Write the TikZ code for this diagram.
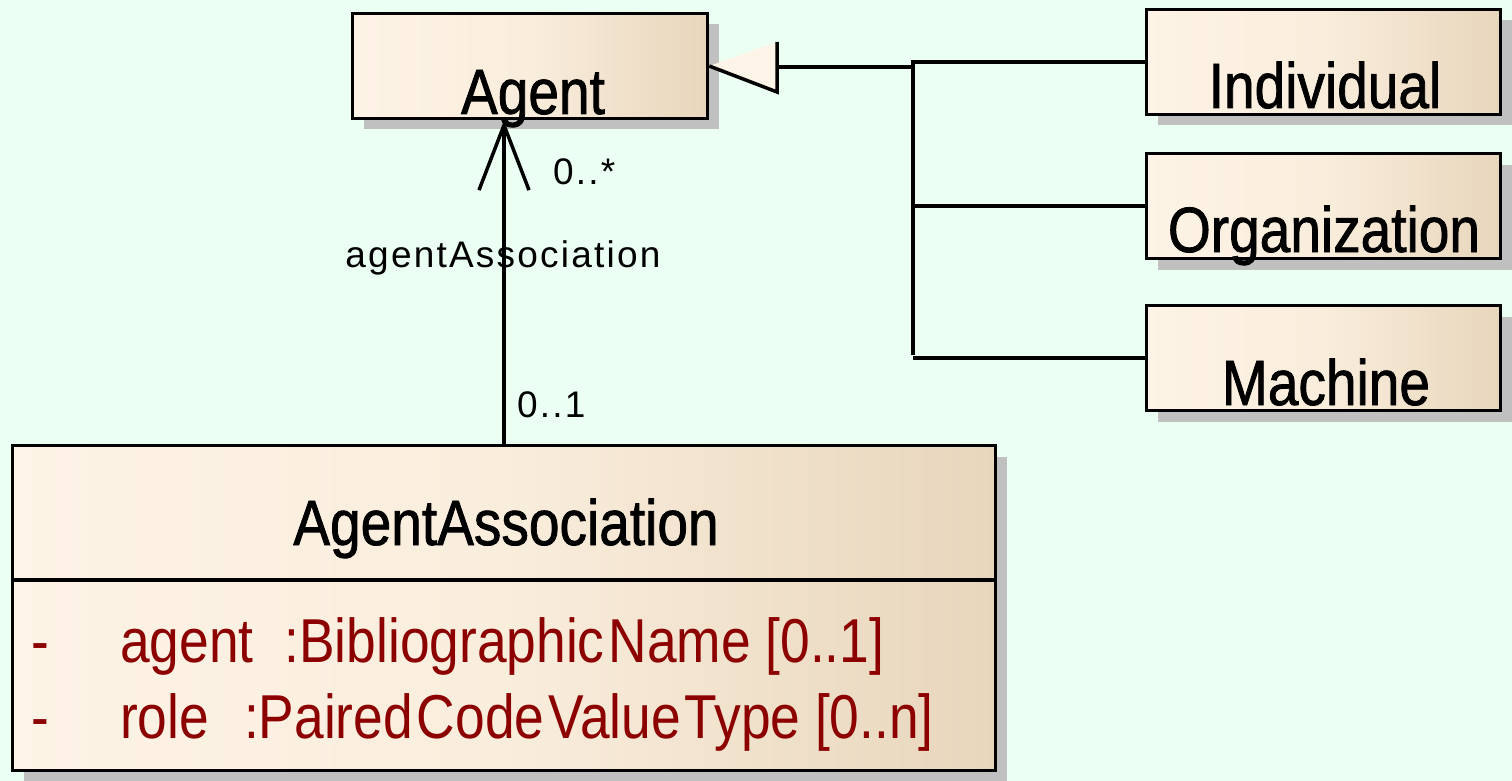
\documentclass[tikz,border=0pt]{standalone}
\usepackage{fontspec}
\usetikzlibrary{arrows.meta}
\usetikzlibrary{shadows}

\newfontfamily\umlnarrow[FakeStretch=0.86]{Liberation Sans}
\newfontfamily\umlnarrowbold[FakeStretch=0.86, FakeBold=1.2]{Liberation Sans}
\newfontfamily\umllabel[LetterSpace=6]{Liberation Sans}

\definecolor{bgmint}{RGB}{235,255,243}
\definecolor{clsL}{RGB}{253,243,230}
\definecolor{clsM}{RGB}{249,237,220}
\definecolor{clsR}{RGB}{232,214,188}
\definecolor{shadowgray}{RGB}{192,192,192}
\definecolor{attrred}{RGB}{140,0,0}

\begin{document}
\begin{tikzpicture}[x=1pt,y=-1pt]
	\tikzstyle{cls} = [rectangle, draw, line width=3.5pt, left color=clsL, right color=clsR, middle color=clsM, inner sep=0pt, drop shadow={shadow xshift=11pt, shadow yshift=-11pt, fill=shadowgray, opacity=1}]
	\tikzstyle{clsname} = [anchor=base, inner sep=0pt, font=\umlnarrowbold\fontsize{64}{70}\selectfont]
	\tikzstyle{attr} = [anchor=base west, inner sep=0pt, text=attrred, font=\umlnarrow\fontsize{62}{70}\selectfont]
	\tikzstyle{rolelbl} = [anchor=base west, inner sep=0pt, font=\umllabel\fontsize{37}{40}\selectfont]
	\tikzstyle{conn} = [line width=3.5pt]

	\fill [bgmint] (0,0) rectangle (1512,781);
	\useasboundingbox (0,0) rectangle (1512,781);

	% classes
	\node [cls, minimum width=355pt, minimum height=105pt] (agent) at (530,66) {};
	\node [cls, minimum width=354pt, minimum height=105pt] (individual) at (1323.5,62) {};
	\node [cls, minimum width=354pt, minimum height=105pt] (organization) at (1323.5,206) {};
	\node [cls, minimum width=354pt, minimum height=105pt] (machine) at (1323.5,358) {};
	\node [cls, minimum width=983pt, minimum height=325pt] (assoc) at (504,608) {};

	\node [clsname] (agentname) at (533,114) {Agent};
	\node [clsname] (individualname) at (1325,108) {Individual};
	\node [clsname] (organizationname) at (1324,252) {Organization};
	\node [clsname] (machinename) at (1326,405) {Machine};
	\node [clsname] (assocname) at (506,545) {AgentAssociation};

	\coordinate (split) at (0,580);
	\draw [conn] (assoc.west |- split) -- (assoc.east |- split);

	\node [attr] (dashA) at (31,662) {-};
	\node [attr] (attrA) at (120,662) {agent\hspace{31pt}:Bibliographic\kern4pt Name [0..1]};
	\node [attr] (dashB) at (31,738) {-};
	\node [attr] (attrB) at (120,738) {role\hspace{35pt}:Paired\kern4pt Code\kern4pt Value\kern4pt Type [0..n]};

	% generalization
	\coordinate (genbase) at (777,67);
	\coordinate (gentop) at (777,42);
	\coordinate (genbot) at (777,92);
	\coordinate (busmid) at (913,67);
	\coordinate (bustop) at (913,60);
	\coordinate (busbot) at (913,355);
	\fill [clsL] (agent.east) -- (gentop) -- (genbot) -- cycle;
	\draw [conn] (gentop) -- (genbot) -- (agent.east);
	\draw [conn] (busmid) -- (genbase);
	\draw [conn] (bustop) -- (busbot);
	\draw [conn] (individual.west) -- (individual.west -| bustop);
	\draw [conn] (organization.west) -- (organization.west -| bustop);
	\draw [conn] (machine.west) -- (machine.west -| bustop);

	% association
	\draw [conn, -{Straight Barb[length=65pt, width=50pt, line width=3.5pt]}] (assoc.north) -- (assoc.north |- agent.south);
	\node [rolelbl] (multAgent) at (553,184) {0..*};
	\node [rolelbl, anchor=base] (rolename) at (503,267) {agentAssociation};
	\node [rolelbl] (multAssoc) at (517,417) {0..1};
\end{tikzpicture}
\end{document}
